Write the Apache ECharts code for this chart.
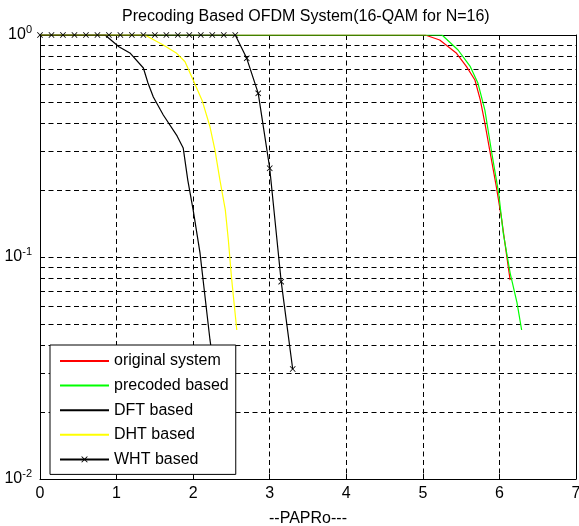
<!DOCTYPE html>
<html>
<head>
<meta charset="utf-8">
<script src="https://cdn.jsdelivr.net/npm/echarts@6/dist/echarts.min.js"></script>
<style>
html,body{margin:0;padding:0;background:#fff;}
#chart{width:579px;height:526px;}
</style>
</head>
<body>
<div id="chart"></div>
<script>
// ---- data ----
const seriesNames = ['original system', 'precoded based', 'DFT based', 'DHT based', 'WHT based'];

const origX = [0, 5.03, 5.22, 5.44, 5.57, 5.68, 5.75, 5.81, 5.88, 5.96, 6.03, 6.09, 6.14];
const origY = [1, 1, 0.950, 0.827, 0.720, 0.627, 0.510, 0.401, 0.294, 0.207, 0.147, 0.104, 0.0787];

const precX = [0, 5.25, 5.46, 5.62, 5.72, 5.81, 5.90, 5.99, 6.05, 6.14, 6.23, 6.29];
const precY = [1, 1, 0.856, 0.720, 0.606, 0.459, 0.294, 0.194, 0.128, 0.0847, 0.0621, 0.0469];

const dftX = [0, 0.85, 1.03, 1.18, 1.35, 1.41, 1.48, 1.61, 1.79, 1.87, 1.93, 2.00, 2.09, 2.22, 2.28];
const dftY = [1, 1, 0.886, 0.827, 0.710, 0.608, 0.526, 0.436, 0.351, 0.310, 0.222, 0.163, 0.104, 0.0423, 0.030];

const dhtX = [0, 1.37, 1.61, 1.785, 1.894, 2.00, 2.12, 2.22, 2.285, 2.35, 2.42, 2.46, 2.50, 2.57];
const dhtY = [1, 1, 0.901, 0.827, 0.758, 0.627, 0.504, 0.386, 0.303, 0.222, 0.163, 0.119, 0.0815, 0.0469];

const whtX = [0, 0.15, 0.3, 0.45, 0.6, 0.75, 0.9, 1.05, 1.2, 1.35, 1.5, 1.65, 1.8, 1.95, 2.1, 2.25, 2.4, 2.55, 2.7, 2.85, 3.0, 3.15, 3.3];
const whtY = [1, 1, 1, 1, 1, 1, 1, 1, 1, 1, 1, 1, 1, 1, 1, 1, 1, 1, 0.785, 0.546, 0.251, 0.0774, 0.0313];

const xTickValues = [0, 1, 2, 3, 4, 5, 6, 7];
const minorGridValues = [0.9, 0.8, 0.7, 0.6, 0.5, 0.4, 0.3, 0.2, 0.09, 0.08, 0.07, 0.06, 0.05, 0.04, 0.03, 0.02];

// ---- chart ----
const FONT = '"Liberation Sans", Arial, Helvetica, sans-serif';
const pair = (xs, ys) => xs.map((x, i) => [x, ys[i]]);
const dash = [5, 3.5];
const xMark = 'path://M0,1L1,0L5,4L9,0L10,1L6,5L10,9L9,10L5,6L1,10L0,9L4,5Z';

const chart = echarts.init(document.getElementById('chart'), null, {renderer: 'canvas'});

const baseLine = (name, data, color) => ({
  name: name,
  type: 'line',
  data: data,
  symbol: 'none',
  smooth: false,
  lineStyle: {color: color, width: 1.2},
  itemStyle: {color: color},
  animation: false,
  z: 3
});

const whtSeries = baseLine(seriesNames[4], pair(whtX, whtY), '#000');
whtSeries.symbol = xMark;
whtSeries.symbolSize = 6;
whtSeries.showSymbol = true;
whtSeries.showAllSymbol = true;

const legendData = seriesNames.map((n, i) => i < 4
  ? {name: n, itemStyle: {opacity: 0}}
  : {name: n});

const option = {
  backgroundColor: '#fff',
  animation: false,
  title: {
    text: 'Precoding Based OFDM System(16-QAM for N=16)',
    left: 122,
    top: 9,
    padding: 0,
    textStyle: {fontSize: 16, fontWeight: 'normal', color: '#000', fontFamily: FONT}
  },
  grid: {left: 40, right: 3, top: 35, bottom: 47, containLabel: false, outerBoundsMode: 'none'},
  legend: {
    data: legendData,
    orient: 'vertical',
    left: 50,
    top: 345,
    z: 10,
    itemWidth: 49,
    itemHeight: 8,
    itemGap: 8.6,
    padding: [8, 7, 7, 9],
    borderColor: '#000',
    borderWidth: 1,
    borderRadius: 0,
    backgroundColor: '#fff',
    textStyle: {fontSize: 16, color: '#000', fontFamily: FONT},
    selectedMode: false
  },
  xAxis: [
    {
      type: 'value', min: xTickValues[0], max: xTickValues[xTickValues.length - 1], interval: 1,
      position: 'bottom',
      axisLine: {show: true, onZero: false, lineStyle: {color: '#000', width: 1}},
      axisTick: {show: true, inside: true, length: 5, lineStyle: {color: '#000'}},
      axisLabel: {color: '#000', fontSize: 16, margin: 7, fontFamily: FONT},
      splitLine: {show: true, lineStyle: {color: '#000', width: 1, type: dash}},
      name: '--PAPRo---', nameLocation: 'middle', nameGap: 32,
      nameTextStyle: {fontSize: 16, color: '#000', fontFamily: FONT}
    },
    {
      type: 'value', min: xTickValues[0], max: xTickValues[xTickValues.length - 1], interval: 1,
      position: 'top',
      axisLine: {show: true, onZero: false, lineStyle: {color: '#000', width: 1}},
      axisTick: {show: true, inside: true, length: 5, lineStyle: {color: '#000'}},
      axisLabel: {show: false},
      splitLine: {show: false}
    }
  ],
  yAxis: [
    {
      type: 'log', logBase: 10, min: 0.01, max: 1,
      position: 'left',
      axisLine: {show: true, onZero: false, lineStyle: {color: '#000', width: 1}},
      axisTick: {show: true, inside: true, length: 5, lineStyle: {color: '#000'}},
      axisLabel: {
        margin: 8,
        formatter: function (v) {
          const e = Math.round(Math.log10(v));
          return '{b|10}{s|' + e + '}';
        },
        rich: {
          b: {fontSize: 16, color: '#000', fontFamily: FONT},
          s: {fontSize: 11, color: '#000', fontFamily: FONT, padding: [0, 0, 11, 0]}
        }
      },
      splitLine: {show: true, lineStyle: {color: '#000', width: 1, type: dash}}
    },
    {
      type: 'log', logBase: 10, min: 0.01, max: 1,
      position: 'right',
      axisLine: {show: true, onZero: false, lineStyle: {color: '#000', width: 1}},
      axisTick: {show: true, inside: true, length: 5, lineStyle: {color: '#000'}},
      axisLabel: {show: false},
      splitLine: {show: false}
    }
  ],
  series: [
    {
      name: 'grid',
      type: 'line',
      data: [],
      silent: true,
      z: 1,
      markLine: {
        silent: true,
        z: 1,
        symbol: 'none',
        label: {show: false},
        animation: false,
        lineStyle: {color: '#000', width: 1, type: dash},
        emphasis: {disabled: true},
        data: minorGridValues.map(v => ({yAxis: v}))
      }
    },
    baseLine(seriesNames[0], pair(origX, origY), '#ff0000'),
    baseLine(seriesNames[1], pair(precX, precY), '#00ff00'),
    baseLine(seriesNames[2], pair(dftX, dftY), '#000000'),
    baseLine(seriesNames[3], pair(dhtX, dhtY), '#ffff00'),
    whtSeries
  ]
};

chart.setOption(option);
</script>
</body>
</html>
